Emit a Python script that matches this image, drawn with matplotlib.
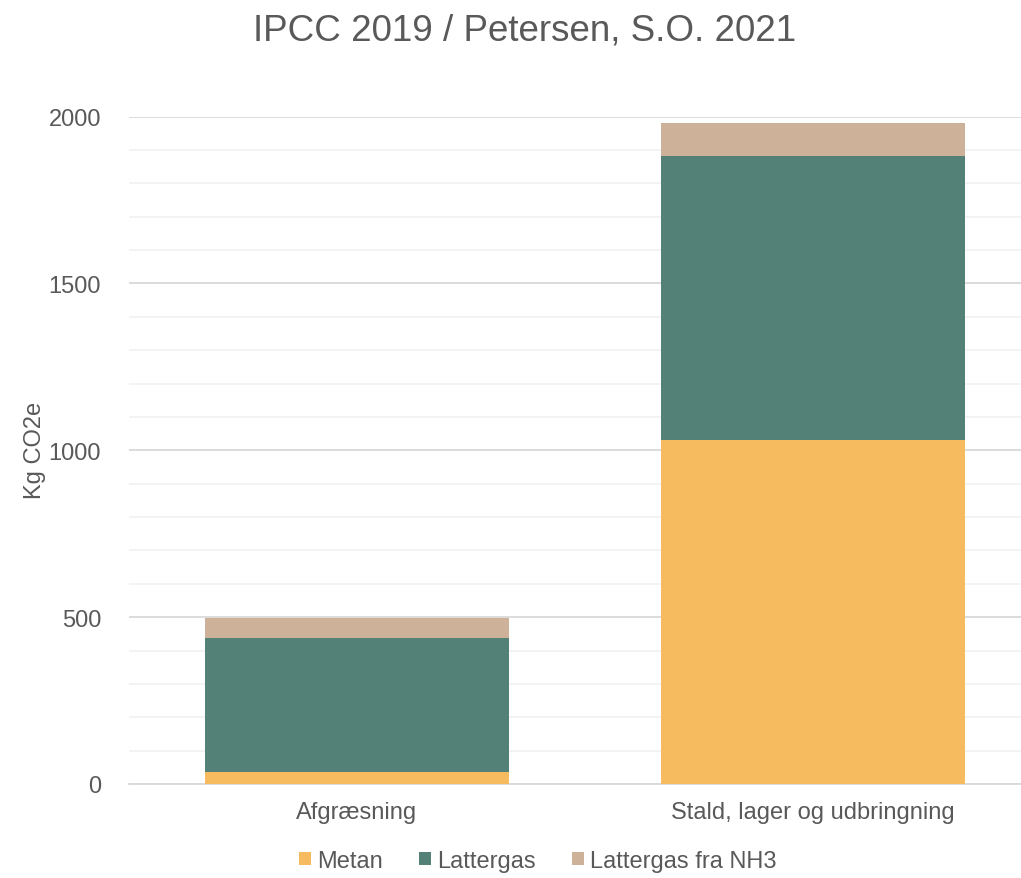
import matplotlib.pyplot as plt
import numpy as np

categories = ["Afgræsning", "Stald, lager og udbringning"]
metan = [36, 1032]
lattergas = [400, 850]
lattergas_nh3 = [60, 99]
series_names = ["Metan", "Lattergas", "Lattergas fra NH3"]
colours = ["#F6BB5F", "#538178", "#CDB299"]

plt.rcParams['font.family'] = ['Liberation Sans', 'DejaVu Sans']
txt = "#595959"

fig = plt.figure(figsize=(10.21, 8.79), dpi=100)
W, H = 1021, 879
ax = fig.add_axes([129 / W, 94.0 / H, 912 / W, 667.5 / H])

x = np.arange(len(categories))
bottom = np.zeros(len(categories))
handles = []
for vals, name, c in zip([metan, lattergas, lattergas_nh3], series_names, colours):
    b = ax.bar(x, vals, width=304 / 456, bottom=bottom, color=c, label=name, zorder=3)
    handles.append(b)
    bottom += np.array(vals)

ax.set_xlim(-0.5, 1.5)
ax.set_ylim(0, 2000)
ax.set_yticks([0, 500, 1000, 1500, 2000])
ax.set_yticks(np.arange(0, 2001, 100), minor=True)
ax.grid(axis='y', which='minor', color='#F2F2F2', linewidth=1.3, zorder=0)
ax.grid(axis='y', which='major', color='#D9D9D9', linewidth=1.3, zorder=1)
for s in ['top', 'right', 'left']:
    ax.spines[s].set_visible(False)
ax.spines['bottom'].set_color('#D9D9D9')
ax.spines['bottom'].set_linewidth(1.3)
ax.tick_params(axis='both', which='both', length=0, labelcolor=txt, labelsize=17)
ax.tick_params(axis='y', pad=20)
ax.tick_params(axis='x', pad=12)
ax.set_xticks(x)
ax.set_xticklabels(categories)

fig.text(35 / W, 1 - 450 / H, "Kg CO2e", rotation=90, ha='center', va='center',
         fontsize=17, color=txt)
fig.text(525 / W, 1 - 31 / H, "IPCC 2019 / Petersen, S.O. 2021", ha='center',
         va='center', fontsize=26.5, color=txt)

fig.legend(handles=handles, labels=series_names, loc='center',
           bbox_to_anchor=(538 / W, 1 - 862 / H), ncol=3, frameon=False,
           fontsize=17, labelcolor=txt, handlelength=0.5, handleheight=0.5,
           handletextpad=0.25, columnspacing=1.55)

fig.savefig("out.png", dpi=100)
